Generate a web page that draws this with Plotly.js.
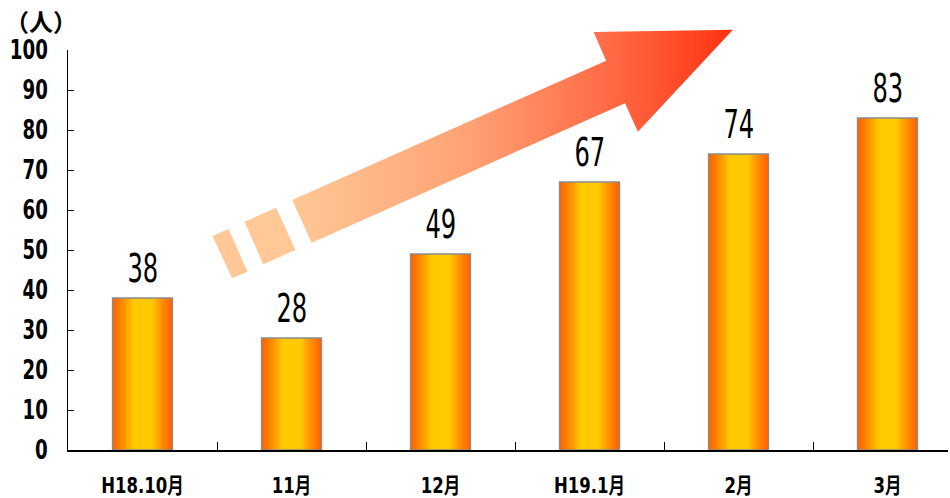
<!DOCTYPE html>
<html>
<head>
<meta charset="utf-8">
<script src="https://cdn.plot.ly/plotly-3.0.1.min.js"></script>
<style>
html,body{margin:0;padding:0;background:#fff;}
#chart{width:950px;height:498px;}
</style>
</head>
<body>
<div id="chart"></div>
<script>
// ---- data ----
const categories = ['H18.10月', '11月', '12月', 'H19.1月', '2月', '3月'];
const values = [38, 28, 49, 67, 74, 83];
const yTickVals = [0, 10, 20, 30, 40, 50, 60, 70, 80, 90, 100];
const yTickText = ['0', '10', '20', '30', '40', '50', '60', '70', '80', '90', '100'];
const unitLabel = '（人）';

// decorative arrow outline (pixel coordinates on a hidden overlay axis)
const arrowDash1X = [212.5, 228.6, 247.5, 232.1];
const arrowDash1Y = [236, 229, 271.7, 278.3];
const arrowDash2X = [244.6, 276.1, 295.4, 263.2];
const arrowDash2Y = [221.7, 207.7, 250, 264.3];
const arrowBodyX = [292.1, 606.1, 593.6, 732.9, 637.9, 625, 311.8];
const arrowBodyY = [200, 60.7, 32, 29.7, 131.7, 103.3, 242.7];

// ---- styling helpers ----
const FONT = "'DejaVu Sans', 'Noto Sans CJK JP', sans-serif";
const BAR_W = 0.403;
function hex(c){return [parseInt(c.slice(1,3),16),parseInt(c.slice(3,5),16),parseInt(c.slice(5,7),16)];}
function mix(a,b,t){const A=hex(a),B=hex(b);return 'rgb('+A.map((v,i)=>Math.round(v+(B[i]-v)*t)).join(',')+')';}
const YELLOW = '#FFCA00', ORANGE = '#FF6200';

const traces = [];
const N = 24;
for (let k = 0; k < N; k++) {
  const f = 1 - k / N;
  let g = (f - 0.33) / 0.67; g = Math.max(0, Math.min(1, g));
  g = Math.pow(g, 0.85);
  traces.push({
    type: 'bar', x: categories, y: values, width: BAR_W * f,
    marker: {color: mix(YELLOW, ORANGE, g), line: {width: 0}},
    hoverinfo: 'skip', showlegend: false, xaxis: 'x', yaxis: 'y'
  });
}
// outline
traces.push({
  type: 'bar', x: categories, y: values, width: BAR_W,
  marker: {color: 'rgba(0,0,0,0)', line: {color: '#8c8c8c', width: 1.3}},
  hoverinfo: 'skip', showlegend: false, xaxis: 'x', yaxis: 'y'
});

// arrow on overlay subplot
traces.push({type:'scatter', mode:'lines', x: arrowDash1X, y: arrowDash1Y, fill:'toself',
  fillcolor:'#FFC896', line:{width:0, color:'rgba(0,0,0,0)'}, hoverinfo:'skip', showlegend:false, xaxis:'x2', yaxis:'y2'});
traces.push({type:'scatter', mode:'lines', x: arrowDash2X, y: arrowDash2Y, fill:'toself',
  fillcolor:'#FFC896', line:{width:0, color:'rgba(0,0,0,0)'}, hoverinfo:'skip', showlegend:false, xaxis:'x2', yaxis:'y2'});
traces.push({type:'scatter', mode:'lines', x: arrowBodyX, y: arrowBodyY, fill:'toself',
  fillgradient:{type:'horizontal', start: 292, stop: 733,
    colorscale:[[0,'#FFC896'],[0.4,'#FFA274'],[0.7,'#FF6E48'],[1,'#FF3212']]},
  line:{width:0, color:'rgba(0,0,0,0)'}, hoverinfo:'skip', showlegend:false, xaxis:'x2', yaxis:'y2'});

const valueAnnotations = categories.map((c, i) => ({
  xref: 'x', yref: 'y', x: c, y: values[i], text: String(values[i]),
  showarrow: false, xanchor: 'center', yanchor: 'middle', yshift: 30,
  font: {family: FONT, size: 39, color: '#000'}
}));

const layout = {
  width: 950, height: 498,
  margin: {l: 0, r: 0, t: 0, b: 0, pad: 0},
  paper_bgcolor: '#fff', plot_bgcolor: 'rgba(0,0,0,0)',
  barmode: 'overlay', showlegend: false,
  xaxis: {
    domain: [68/950, 948/950], anchor: 'y', type: 'category',
    range: [-0.5, -0.5 + 880/149],
    showline: true, linecolor: '#000', linewidth: 2,
    ticks: 'inside', tickson: 'boundaries', ticklen: 8, tickcolor: '#000', tickwidth: 1,
    showgrid: false, zeroline: false,
    tickfont: {family: FONT, size: 22, color: '#000', weight: 'bold'},
    ticklabelstandoff: 15, fixedrange: true
  },
  yaxis: {
    domain: [48/498, 448/498], anchor: 'x', range: [0, 100],
    tickmode: 'array', tickvals: yTickVals, ticktext: yTickText,
    showline: true, linecolor: '#000', linewidth: 1,
    ticks: 'inside', ticklen: 6, tickcolor: '#000', tickwidth: 1,
    showgrid: false, zeroline: false,
    tickfont: {family: FONT, size: 26, color: '#000', weight: 'bold'},
    ticklabelstandoff: 14, fixedrange: true
  },
  xaxis2: {domain: [0, 1], anchor: 'y2', range: [0, 950], visible: false, fixedrange: true},
  yaxis2: {domain: [0, 1], anchor: 'x2', range: [498, 0], visible: false, fixedrange: true},
  annotations: [{
    xref: 'paper', yref: 'paper', x: 3/950, y: 1 - 20/498, xanchor: 'left', yanchor: 'middle',
    text: unitLabel, showarrow: false,
    font: {family: "'Noto Sans CJK JP', sans-serif", size: 24, color: '#000', weight: 'bold'}
  }].concat(valueAnnotations)
};

// narrow the glyphs (the reference uses a condensed gothic face)
function squeeze(sel, ratio) {
  document.querySelectorAll(sel).forEach(t => {
    const w = t.getComputedTextLength();
    if (w > 0) {
      t.setAttribute('textLength', (w * ratio).toFixed(1));
      t.setAttribute('lengthAdjust', 'spacingAndGlyphs');
    }
  });
}

Plotly.newPlot('chart', traces, layout, {displayModeBar: false, staticPlot: true}).then(() => {
  squeeze('#chart .xtick text', 0.75);
  squeeze('#chart .ytick text', 0.70);
  document.querySelectorAll('#chart .annotation-text').forEach((t, i) => {
    if (i > 0) {
      const w = t.getComputedTextLength();
      t.setAttribute('textLength', (w * 0.62).toFixed(1));
      t.setAttribute('lengthAdjust', 'spacingAndGlyphs');
    }
  });
});
</script>
</body>
</html>
